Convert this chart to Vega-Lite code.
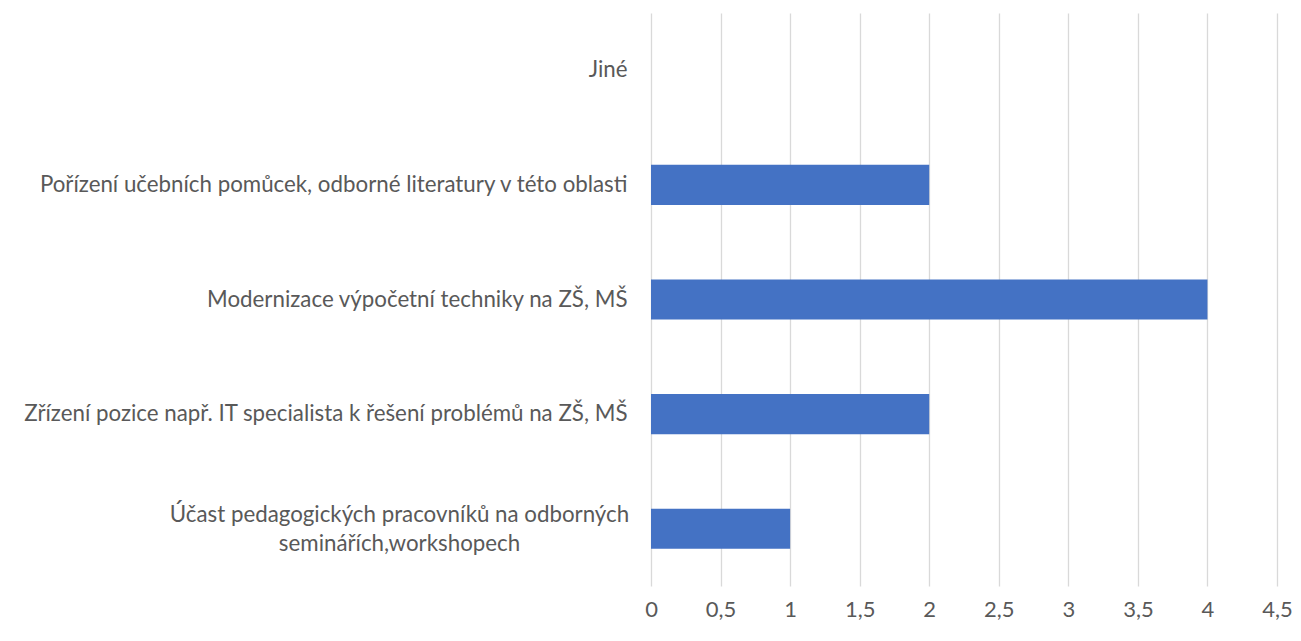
{
  "$schema": "https://vega.github.io/schema/vega-lite/v6.json",
  "autosize": {"type": "none"},
  "padding": {"left": 651, "top": 13, "right": 24, "bottom": 55},
  "width": 626,
  "height": 573,
  "background": "#ffffff",
  "config": {"view": {"stroke": null}, "font": "Lato"},
  "data": {
    "values": [
      {"kategorie": "Jiné", "pocet": 0},
      {"kategorie": "Pořízení učebních pomůcek, odborné literatury v této oblasti", "pocet": 2},
      {"kategorie": "Modernizace výpočetní techniky na ZŠ, MŠ", "pocet": 4},
      {"kategorie": "Zřízení pozice např. IT specialista k řešení problémů na ZŠ, MŠ", "pocet": 2},
      {"kategorie": "Účast pedagogických pracovníků na odborných seminářích,workshopech", "pocet": 1}
    ]
  },
  "mark": {"type": "bar", "color": "#4472C4"},
  "encoding": {
    "y": {
      "field": "kategorie",
      "type": "nominal",
      "sort": null,
      "scale": {"paddingInner": 0.65, "paddingOuter": 0.325},
      "axis": {
        "title": null,
        "domain": false,
        "ticks": false,
        "grid": false,
        "labelLimit": 0,
        "labelFontSize": 22.3,
        "labelColor": "#595959",
        "labelLineHeight": 29,
        "labelExpr": "indexof(datum.value, 'workshopech') >= 0 ? ['Účast pedagogických pracovníků na odborných', 'seminářích,workshopech'] : datum.value",
        "labelAlign": {"condition": {"test": "indexof(datum.value, 'workshopech') >= 0", "value": "center"}, "value": "right"},
        "labelPadding": {"condition": {"test": "indexof(datum.value, 'workshopech') >= 0", "value": 252}, "value": 24},
        "labelOffset": {"condition": {"test": "indexof(datum.value, 'workshopech') >= 0", "value": -14}, "value": 0}
      }
    },
    "x": {
      "field": "pocet",
      "type": "quantitative",
      "scale": {"domain": [0, 4.5], "nice": false},
      "axis": {
        "title": null,
        "domain": false,
        "ticks": false,
        "labelFlush": false,
        "values": [0, 0.5, 1, 1.5, 2, 2.5, 3, 3.5, 4, 4.5],
        "labelExpr": "replace(format(datum.value, '~g'), '.', ',')",
        "labelPadding": 13,
        "labelFontSize": 22,
        "labelColor": "#595959",
        "gridColor": "#d9d9d9",
        "gridWidth": 1.3
      }
    }
  }
}
